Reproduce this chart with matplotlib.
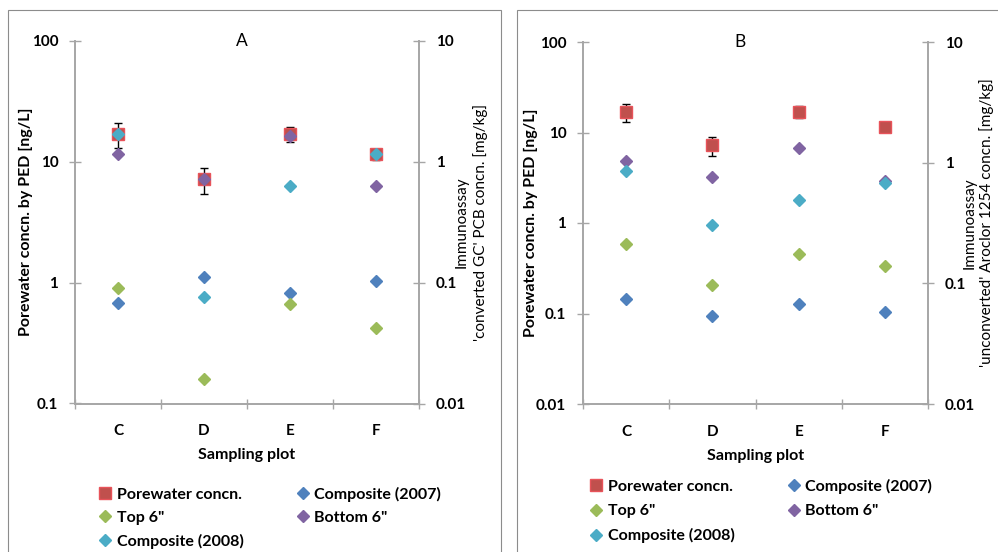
import matplotlib
matplotlib.use("Agg")
import matplotlib.pyplot as plt
import matplotlib.ticker as mticker
from matplotlib.patches import Rectangle
import numpy as np

plt.rcParams["font.family"] = ["Lato", "DejaVu Sans"]

# Data
plots = ["C", "D", "E", "F"]
porewater = [16.9, 7.2, 17.0, 11.6]          # ng/L, PED
porewater_err = [3.9, 1.75, 2.5, 1.25]

# Panel A: 'converted GC' PCB (mg/kg)
a_comp2007 = [0.068, 0.111, 0.082, 0.104]
a_top6 = [0.091, 0.0161, 0.067, 0.042]
a_bottom6 = [1.16, 0.72, 1.65, 0.625]
a_comp2008 = [1.70, 0.076, 0.625, 1.15]

# Panel B: 'unconverted' Aroclor 1254 (mg/kg)
b_comp2007 = [0.074, 0.054, 0.0675, 0.058]
b_top6 = [0.211, 0.096, 0.176, 0.139]
b_bottom6 = [1.03, 0.76, 1.32, 0.71]
b_comp2008 = [0.86, 0.306, 0.49, 0.68]

RED, RED_EDGE = "#C0504D", "#E8535A"
BLUE, GREEN, PURPLE, CYAN = "#4F81BD", "#9BBB59", "#8064A2", "#4BACC6"
GRAY = "#A6A6A6"

fig = plt.figure(figsize=(9.98, 5.52), dpi=100)

# panel frames
fig.add_artist(Rectangle((8 / 998, -0.02), 493 / 998, 1.02 - 10 / 552, transform=fig.transFigure,
                         fill=False, edgecolor="#8C8C8C", linewidth=0.8))
fig.add_artist(Rectangle((517 / 998, -0.02), 0.5, 1.02 - 10 / 552, transform=fig.transFigure,
                         fill=False, edgecolor="#8C8C8C", linewidth=0.8))

fmt = mticker.FuncFormatter(lambda v, _: f"{v:g}")


def draw_panel(rect, title, title_x, left_lim, right_label, series, legend_xy, lab_x, lspace):
    ax = fig.add_axes(rect)
    ax2 = ax.twinx()
    x = np.arange(len(plots))

    ax.errorbar(x, porewater, yerr=porewater_err, fmt="none", ecolor="black",
                elinewidth=1.0, capsize=3, capthick=1.0, zorder=2)
    sq, = ax.plot(x, porewater, "s", ms=8, mfc=RED, mec=RED_EDGE, mew=1.0,
                  linestyle="none", zorder=3, label="Porewater concn.")

    handles = {}
    for name, vals, col in series:
        h, = ax2.plot(x, vals, "D", ms=6.5, mfc=col, mec=col, linestyle="none", label=name)
        handles[name] = h

    for a in (ax, ax2):
        a.set_yscale("log")
        a.yaxis.set_major_locator(mticker.LogLocator(base=10, numticks=10))
        a.yaxis.set_major_formatter(fmt)
        a.yaxis.set_minor_locator(mticker.NullLocator())
        a.tick_params(axis="y", direction="inout", length=8, width=1.0, color=GRAY,
                      pad=8, labelsize=11)
        for s in a.spines.values():
            s.set_visible(False)
    ax.set_ylim(*left_lim)
    ax2.set_ylim(0.01, 10)
    for a in (ax, ax2):
        for lab in a.get_yticklabels():
            lab.set_fontweight("bold")

    ax.spines["left"].set_visible(True)
    ax.spines["bottom"].set_visible(True)
    ax2.spines["right"].set_visible(True)
    for s in (ax.spines["left"], ax.spines["bottom"], ax2.spines["right"]):
        s.set_color(GRAY)
        s.set_linewidth(1.4)

    ax.set_xlim(-0.5, len(plots) - 0.5)
    ax.set_xticks(x)
    ax.set_xticklabels(plots, fontweight="bold", fontsize=11)
    ax.set_xticks(np.arange(-0.5, len(plots)), minor=True)
    ax.tick_params(axis="x", which="major", length=0, pad=15)
    ax.tick_params(axis="x", which="minor", direction="inout", length=7, width=1.0, color=GRAY)
    ax.set_xlabel("Sampling plot", fontweight="bold", fontsize=11.5, labelpad=7)

    ax.set_ylabel("Porewater concn. by PED [ng/L]", fontweight="bold", fontsize=11.5)
    ax.yaxis.set_label_coords(lab_x[0], 0.5)
    # two-line right axis title
    ax2.text(lab_x[1], 0.5, "Immunoassay", transform=ax.transAxes, rotation=90,
             ha="center", va="center", fontsize=11)
    ax2.text(lab_x[2], 0.5, right_label, transform=ax.transAxes, rotation=90,
             ha="center", va="center", fontsize=11)

    ax.text(title_x, 1.0, title, transform=ax.transAxes, ha="center", va="center", fontsize=12.5)

    order = [sq, handles['Top 6"'], handles["Composite (2008)"],
             handles["Composite (2007)"], handles['Bottom 6"']]
    fig.legend(handles=order, labels=[h.get_label() for h in order], ncol=2,
               loc="upper left", bbox_to_anchor=legend_xy, bbox_transform=fig.transFigure,
               frameon=False, prop={"weight": "bold", "size": 11.5},
               handlelength=0.8, handletextpad=0.3, columnspacing=3.3,
               labelspacing=lspace, borderpad=0, borderaxespad=0)


draw_panel([75 / 998, 1 - 403.5 / 552, 344 / 998, 362.5 / 552], "A", 0.485, (0.1, 100),
           "'converted GC' PCB concn. [mg/kg]",
           [("Composite (2007)", a_comp2007, BLUE), ('Top 6"', a_top6, GREEN),
            ('Bottom 6"', a_bottom6, PURPLE), ("Composite (2008)", a_comp2008, CYAN)],
           (99 / 998, 1 - 487 / 552), (-0.122, 1.125, 1.180), 0.55)

draw_panel([583 / 998, 1 - 404 / 552, 345 / 998, 362 / 552], "B", 0.455, (0.01, 100),
           "'unconverted' Aroclor 1254 concn. [mg/kg]",
           [("Composite (2007)", b_comp2007, BLUE), ('Top 6"', b_top6, GREEN),
            ('Bottom 6"', b_bottom6, PURPLE), ("Composite (2008)", b_comp2008, CYAN)],
           (590 / 998, 1 - 479 / 552), (-0.130, 1.120, 1.170), 0.62)

fig.savefig("out.png", dpi=100)
